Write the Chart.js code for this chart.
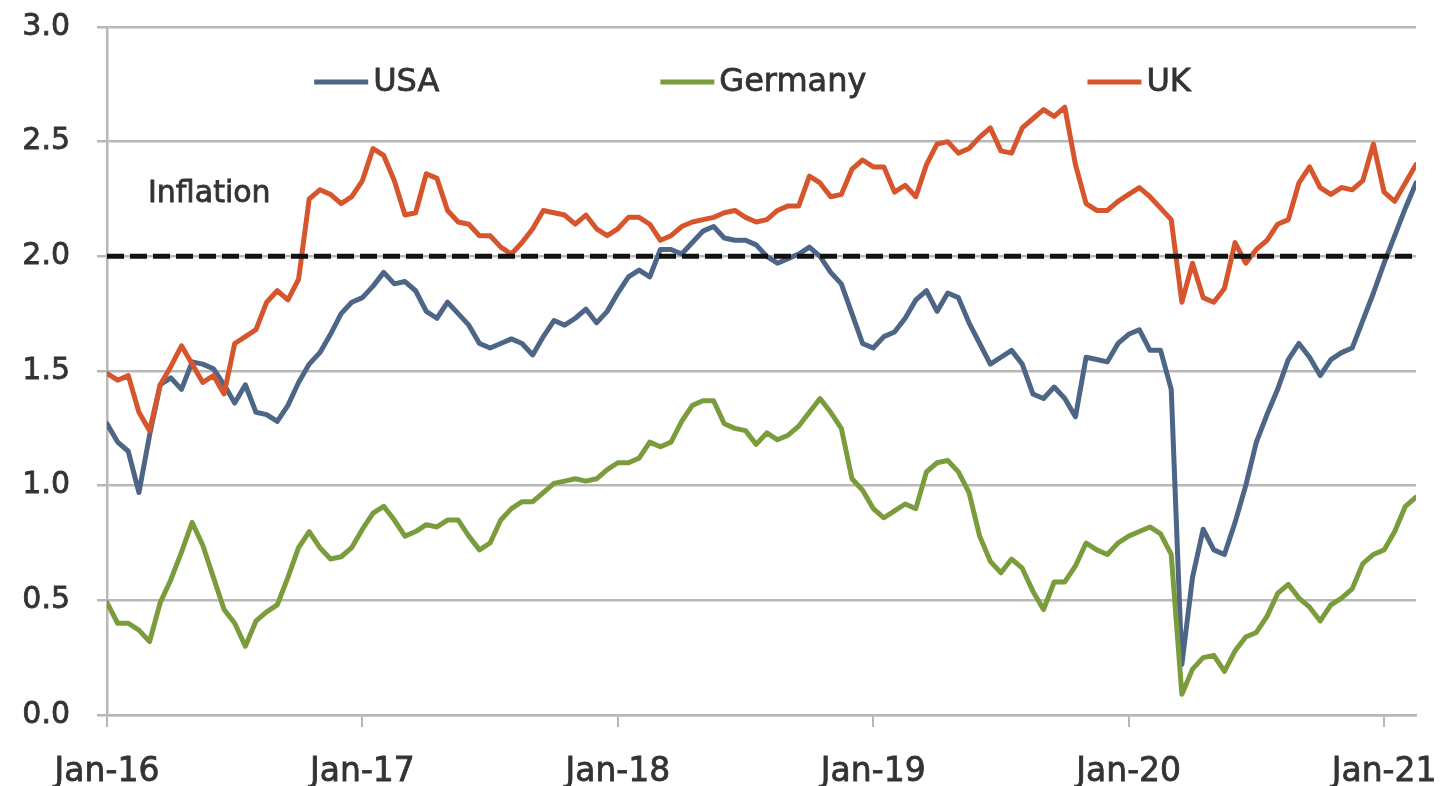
<!DOCTYPE html>
<html>
<head>
<meta charset="utf-8">
<title>Inflation</title>
<script src="https://cdn.jsdelivr.net/npm/chart.js@4.4.1/dist/chart.umd.min.js"></script>
<style>
  html, body { margin: 0; padding: 0; background: #fff; }
  canvas { display: block; }
</style>
</head>
<body>
<canvas id="inflationChart" width="1445" height="786"></canvas>
<script>
// readings every half month, Jan 2016 to mid Feb 2021
const stepMonths = 0.5;
const yearLabels = ['Jan-16', 'Jan-17', 'Jan-18', 'Jan-19', 'Jan-20', 'Jan-21'];
const seriesNames = ['USA', 'Germany', 'UK'];
const targetRate = 2.0;

const usa = [
  1.27, 1.19, 1.15, 0.97, 1.22, 1.44, 1.47, 1.42, 1.54, 1.53, 1.51, 1.44,
  1.36, 1.44, 1.32, 1.31, 1.28, 1.35, 1.45, 1.53, 1.58, 1.66, 1.75, 1.80,
  1.82, 1.87, 1.93, 1.88, 1.89, 1.85, 1.76, 1.73, 1.80, 1.75, 1.70, 1.62,
  1.60, 1.62, 1.64, 1.62, 1.57, 1.65, 1.72, 1.70, 1.73, 1.77, 1.71, 1.76,
  1.84, 1.91, 1.94, 1.91, 2.03, 2.03, 2.01, 2.06, 2.11, 2.13, 2.08, 2.07,
  2.07, 2.05, 2.00, 1.97, 1.99, 2.01, 2.04, 2.00, 1.93, 1.88, 1.75, 1.62,
  1.60, 1.65, 1.67, 1.73, 1.81, 1.85, 1.76, 1.84, 1.82, 1.71, 1.62, 1.53,
  1.56, 1.59, 1.53, 1.40, 1.38, 1.43, 1.38, 1.30, 1.56, 1.55, 1.54, 1.62,
  1.66, 1.68, 1.59, 1.59, 1.42, 0.22, 0.60, 0.81, 0.72, 0.70, 0.84, 1.00,
  1.19, 1.31, 1.42, 1.55, 1.62, 1.56, 1.48, 1.55, 1.58, 1.60, 1.72, 1.84,
  1.97, 2.09, 2.21, 2.32
];

const germany = [
  0.49, 0.40, 0.40, 0.37, 0.32, 0.49, 0.59, 0.71, 0.84, 0.74, 0.60, 0.46,
  0.40, 0.30, 0.41, 0.45, 0.48, 0.60, 0.73, 0.80, 0.73, 0.68, 0.69, 0.73,
  0.81, 0.88, 0.91, 0.85, 0.78, 0.80, 0.83, 0.82, 0.85, 0.85, 0.78, 0.72,
  0.75, 0.85, 0.90, 0.93, 0.93, 0.97, 1.01, 1.02, 1.03, 1.02, 1.03, 1.07,
  1.10, 1.10, 1.12, 1.19, 1.17, 1.19, 1.28, 1.35, 1.37, 1.37, 1.27, 1.25,
  1.24, 1.18, 1.23, 1.20, 1.22, 1.26, 1.32, 1.38, 1.32, 1.25, 1.03, 0.98,
  0.90, 0.86, 0.89, 0.92, 0.90, 1.06, 1.10, 1.11, 1.06, 0.97, 0.78, 0.67,
  0.62, 0.68, 0.64, 0.54, 0.46, 0.58, 0.58, 0.65, 0.75, 0.72, 0.70, 0.75,
  0.78, 0.80, 0.82, 0.79, 0.70, 0.09, 0.20, 0.25, 0.26, 0.19, 0.28, 0.34,
  0.36, 0.43, 0.53, 0.57, 0.51, 0.47, 0.41, 0.48, 0.51, 0.55, 0.66, 0.70,
  0.72, 0.80, 0.91, 0.95
];

const uk = [
  1.49, 1.46, 1.48, 1.32, 1.24, 1.44, 1.52, 1.61, 1.53, 1.45, 1.48, 1.40,
  1.62, 1.65, 1.68, 1.80, 1.85, 1.81, 1.90, 2.25, 2.29, 2.27, 2.23, 2.26,
  2.33, 2.47, 2.44, 2.33, 2.18, 2.19, 2.36, 2.34, 2.20, 2.15, 2.14, 2.09,
  2.09, 2.04, 2.01, 2.06, 2.12, 2.20, 2.19, 2.18, 2.14, 2.18, 2.12, 2.09,
  2.12, 2.17, 2.17, 2.14, 2.07, 2.09, 2.13, 2.15, 2.16, 2.17, 2.19, 2.20,
  2.17, 2.15, 2.16, 2.20, 2.22, 2.22, 2.35, 2.32, 2.26, 2.27, 2.38, 2.42,
  2.39, 2.39, 2.28, 2.31, 2.26, 2.40, 2.49, 2.50, 2.45, 2.47, 2.52, 2.56,
  2.46, 2.45, 2.56, 2.60, 2.64, 2.61, 2.65, 2.40, 2.23, 2.20, 2.20, 2.24,
  2.27, 2.30, 2.26, 2.21, 2.16, 1.80, 1.97, 1.82, 1.80, 1.86, 2.06, 1.97,
  2.03, 2.07, 2.14, 2.16, 2.32, 2.39, 2.30, 2.27, 2.30, 2.29, 2.33, 2.49,
  2.28, 2.24, 2.32, 2.40
];

const colors = { USA: '#4d6586', Germany: '#7b9c3c', UK: '#d6552c' };
const textColor = '#333333';
const textStroke = 0.8;
const gridColor = '#b8b8b8';
const fontFamily = '"DejaVu Sans", sans-serif';

const lastMonth = (usa.length - 1) * stepMonths;
const toPoints = values => values.map((v, i) => ({ x: i * stepMonths, y: v }));

// legend sits inside the plot, plus the "Inflation" caption above the target line
const insideLegend = {
  id: 'insideLegend',
  afterDatasetsDraw(chart) {
    const { ctx, chartArea, scales } = chart;
    const items = seriesNames.map(name => chart.data.datasets.find(d => d.label === name));
    const lineLen = 54, gap = 5, spacing = 221;

    const writeText = (text, x, y) => {
      ctx.fillStyle = textColor;
      ctx.strokeStyle = textColor;
      ctx.lineWidth = textStroke;
      ctx.fillText(text, x, y);
      ctx.strokeText(text, x, y);
    };

    ctx.save();
    ctx.font = '32px ' + fontFamily;
    const widths = items.map(d => ctx.measureText(d.label).width);
    const total = widths.reduce((sum, w) => sum + lineLen + gap + w, 0) + spacing * (items.length - 1);
    let x = (chartArea.left + chartArea.right) / 2 - total / 2 - 9;
    const y = chartArea.top + 55;

    ctx.textBaseline = 'middle';
    items.forEach((d, i) => {
      ctx.strokeStyle = d.borderColor;
      ctx.lineWidth = 5;
      ctx.beginPath();
      ctx.moveTo(x, y);
      ctx.lineTo(x + lineLen, y);
      ctx.stroke();
      writeText(d.label, x + lineLen + gap, y + 1);
      x += lineLen + gap + widths[i] + spacing;
    });

    ctx.font = '30px ' + fontFamily;
    writeText('Inflation', chartArea.left + 41, scales.y.getPixelForValue(2.27));
    ctx.restore();
  }
};

const series = { USA: usa, Germany: germany, UK: uk };
const datasets = [
  {
    label: 'Target',
    data: [{ x: 0, y: targetRate }, { x: lastMonth, y: targetRate }],
    borderColor: '#111111',
    borderWidth: 5,
    borderDash: [17, 6],
    borderCapStyle: 'butt',
    order: 0
  }
];
['UK', 'Germany', 'USA'].forEach((name, i) => {
  datasets.push({
    label: name,
    data: toPoints(series[name]),
    borderColor: colors[name],
    order: i + 1
  });
});

new Chart(document.getElementById('inflationChart'), {
  type: 'line',
  data: { datasets: datasets },
  options: {
    responsive: false,
    animation: false,
    devicePixelRatio: 1,
    layout: { padding: { top: 27, right: 29, left: 0, bottom: 0 } },
    elements: {
      point: { radius: 0 },
      line: { borderWidth: 5, tension: 0, borderJoinStyle: 'round', borderCapStyle: 'round' }
    },
    plugins: {
      legend: { display: false },
      tooltip: { enabled: false }
    },
    scales: {
      x: {
        type: 'linear',
        min: 0,
        max: lastMonth,
        afterBuildTicks: scale => {
          scale.ticks = yearLabels.map((_, i) => ({ value: i * 12 }));
        },
        afterFit: scale => {
          // labels may spill past the ends, the outer padding handles that
          scale.height = 71;
          scale.paddingLeft = 0;
          scale.paddingRight = 0;
        },
        grid: { drawOnChartArea: false, drawTicks: true, tickLength: 12, color: gridColor, lineWidth: 2 },
        border: { display: true, color: gridColor, width: 2.5 },
        ticks: {
          callback: value => yearLabels[Math.round(value / 12)],
          autoSkip: false,
          maxRotation: 0,
          padding: 26,
          color: textColor,
          textStrokeColor: textColor,
          textStrokeWidth: textStroke,
          font: { family: fontFamily, size: 33 }
        }
      },
      y: {
        min: 0,
        max: 3,
        afterFit: scale => {
          scale.width = 107;
          scale.paddingTop = 0;
          scale.paddingBottom = 0;
        },
        grid: { color: gridColor, lineWidth: 2.5, tickLength: 10 },
        border: { display: true, color: gridColor, width: 2.5 },
        ticks: {
          stepSize: 0.5,
          callback: value => value.toFixed(1),
          padding: 27,
          color: textColor,
          textStrokeColor: textColor,
          textStrokeWidth: textStroke,
          font: { family: fontFamily, size: 30 }
        }
      }
    }
  },
  plugins: [insideLegend]
});
</script>
</body>
</html>
